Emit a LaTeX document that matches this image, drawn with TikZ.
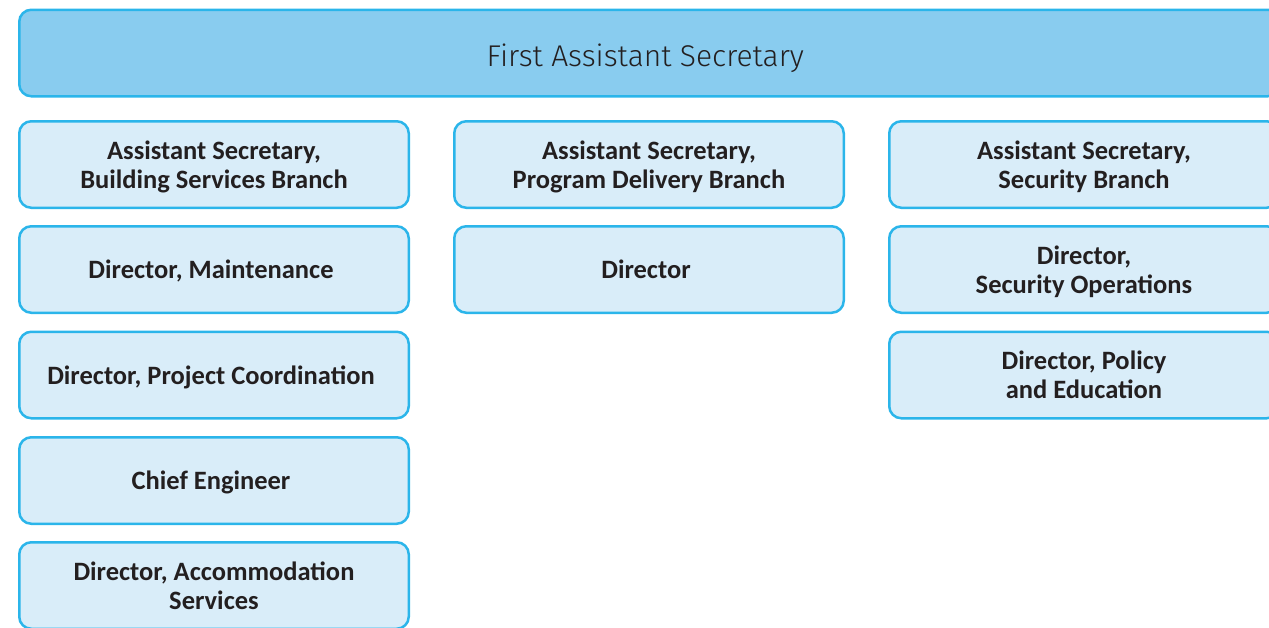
\documentclass[tikz,border=0pt]{standalone}
\usepackage{fontspec}
\setmainfont{Carlito}
\newfontfamily\headfont{Fira Sans Light}
\usetikzlibrary{positioning}
\usepackage{xcolor}
\definecolor{boxline}{HTML}{2BB5EA}
\definecolor{headfill}{HTML}{89CCEF}
\definecolor{boxfill}{HTML}{D9EDF9}
\definecolor{boxtext}{HTML}{231F20}

\begin{document}
\begin{tikzpicture}[x=1pt, y=-1pt, every node/.style={
    rectangle,
    rounded corners=12pt,
    line width=2.5pt,
    draw=boxline,
    fill=boxfill,
    text=boxtext,
    align=center,
    text depth=-3pt,
    minimum width=389.5pt,
    minimum height=86.5pt,
    font=\fontsize{26.5}{29}\selectfont\bfseries
}]
    \useasboundingbox (0, 0) rectangle (1269, 627);
    \clip (0, 0) rectangle (1269, 627);

    \node (first_assistant_secretary) [fill=headfill, minimum width=1260.5pt, text height=27pt, text depth=0pt, font=\headfont\fontsize{30}{36}\selectfont, shift={(649.5, 53)}]
    {
        First Assistant Secretary
    };



    \node (building_services_branch) [shift={(214, 164.5)}]
    {
        Assistant Secretary,\\Building Services Branch
    };
    \node (director_maintenance) [shift={(214, 269.5)}]
    {
        Director, Maintenance
    };
    \node (director_project_coordination) [shift={(214, 375)}]
    {
        Director, Project Coordination
    };
    \node (chief_engineer) [shift={(214, 480.5)}]
    {
        Chief Engineer
    };
    \node (director_accommodation_services) [shift={(214, 585.5)}]
    {
        Director, Accommodation\\Services
    };




    \node (program_delivery_branch) [shift={(649, 164.5)}]
    {
        Assistant Secretary,\\Program Delivery Branch
    };
    \node (director_program_delivery) [shift={(649, 269.5)}]
    {
        Director
    };




    \node (security_branch) [shift={(1084, 164.5)}]
    {
        Assistant Secretary,\\Security Branch
    };
    \node (director_security_operations) [shift={(1084, 269.5)}]
    {
        Director,\\Security Operations
    };
    \node (director_policy_education) [shift={(1084, 375)}]
    {
        Director, Policy\\and Education
    };


\end{tikzpicture}
\end{document}
